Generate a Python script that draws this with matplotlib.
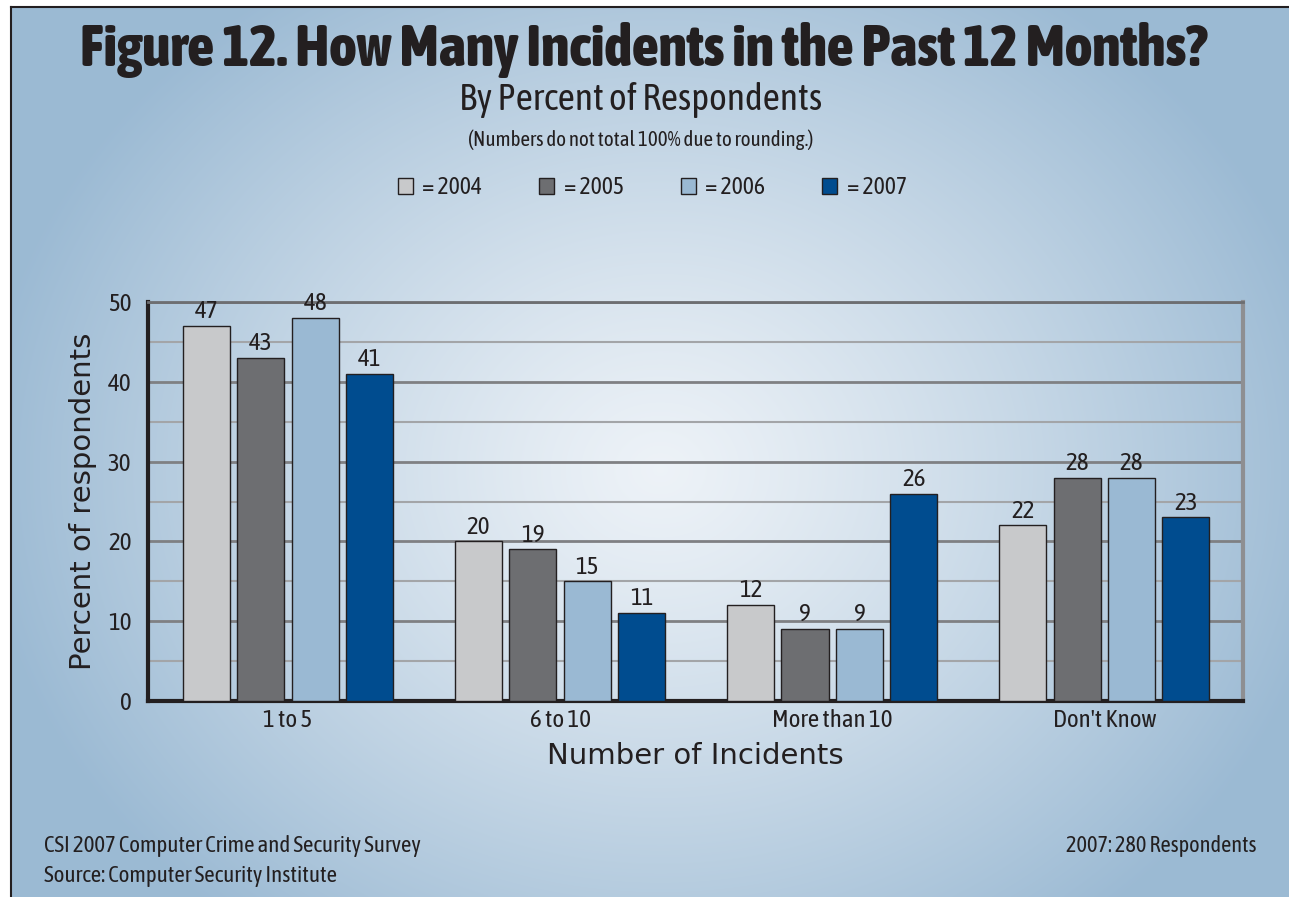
import matplotlib
matplotlib.use("Agg")
import matplotlib.pyplot as plt
import matplotlib.font_manager as fm
from matplotlib.patches import Patch
import numpy as np

# survey results, percent of respondents
categories = ["1 to 5", "6 to 10", "More than 10", "Don't Know"]
years = ["2004", "2005", "2006", "2007"]
pct_2004 = [47, 20, 12, 22]
pct_2005 = [43, 19, 9, 28]
pct_2006 = [48, 15, 9, 28]
pct_2007 = [41, 11, 26, 23]
series = [pct_2004, pct_2005, pct_2006, pct_2007]
bar_colors = ["#c8c9cb", "#6d6e71", "#9ab9d3", "#004c8f"]
ink = "#231f20"


def as_weight(w):
    if isinstance(w, int):
        return w
    return 700 if 'bold' in str(w) else 400


def narrow_faces():
    # every upright condensed / narrow face that is installed
    out = []
    for f in fm.fontManager.ttflist:
        is_narrow = ('Narrow' in f.name or 'Condensed' in f.name
                     or f.stretch in ('condensed', 'semi-condensed', 'extra-condensed'))
        if is_narrow and f.style == 'normal':
            out.append(f)
    return out


faces = narrow_faces()
if faces:
    heavy = sorted(faces, key=lambda f: (abs(as_weight(f.weight) - 800), f.fname))[0]
    same = [f for f in faces if f.name == heavy.name] or faces
    plain = sorted(same, key=lambda f: (abs(as_weight(f.weight) - 400), f.fname))[0]
    cond_bold = fm.FontProperties(fname=heavy.fname)
    cond = fm.FontProperties(fname=plain.fname)
else:
    cond_bold = fm.FontProperties(family='DejaVu Sans', weight='bold')
    cond = fm.FontProperties(family='DejaVu Sans')

W, H = 1289, 897
fig = plt.figure(figsize=(W / 100, H / 100), dpi=100)

# bluish radial backdrop inside the frame
x0, y0 = 11, 7
bg = fig.add_axes([x0 / W, 0, 1 - x0 / W, 1 - y0 / H], zorder=-5)
gx, gy = np.meshgrid(np.arange(x0, W), np.arange(y0, H))
r = np.sqrt(((gx - 660) / 680.0) ** 2 + ((gy - 470) / 580.0) ** 2)
t = np.clip(r, 0, 1) ** 1.2
c_in = np.array([0.93, 0.95, 0.97])
c_out = np.array([0.61, 0.73, 0.83])
img = c_in[None, None, :] * (1 - t[..., None]) + c_out[None, None, :] * t[..., None]
bg.imshow(img, aspect='auto', interpolation='bilinear')
bg.axis('off')

# frame lines on top and left
fig.add_artist(plt.Line2D([x0 / W, 1], [1 - y0 / H, 1 - y0 / H], color=ink, lw=1.5))
fig.add_artist(plt.Line2D([x0 / W, x0 / W], [0, 1 - y0 / H], color=ink, lw=1.5))

ax = fig.add_axes([148 / W, 1 - 701 / H, 1095 / W, 399 / H])
ax.patch.set_alpha(0)

x = np.arange(len(categories))
step, width = 0.2, 0.173
for j, (vals, col) in enumerate(zip(series, bar_colors)):
    pos = x + (j - 1.5) * step
    ax.bar(pos, vals, width=width, color=col, edgecolor=ink, linewidth=1, zorder=3)
    for px, v in zip(pos, vals):
        ax.annotate(str(v), (px, v), xytext=(0, 2), textcoords='offset points',
                    ha='center', va='bottom', fontproperties=cond, fontsize=18, color=ink)

ax.set_xlim(-0.515, 3.51)
ax.set_ylim(0, 50)
ax.set_yticks(range(0, 51, 10))
ax.set_yticks(range(5, 50, 10), minor=True)
ax.grid(axis='y', which='major', color='#7f8083', lw=2, zorder=1)
ax.grid(axis='y', which='minor', color='#a3a5a8', lw=1.5, zorder=1)
ax.set_xticks(x)
ax.set_xticklabels(categories)
ax.tick_params(axis='both', which='both', length=0, colors=ink)
ax.tick_params(axis='x', pad=6)
ax.tick_params(axis='y', pad=12)
for lab in ax.get_xticklabels() + ax.get_yticklabels():
    lab.set_fontproperties(cond)
    lab.set_fontsize(18)

for s in ['left', 'bottom']:
    ax.spines[s].set_color(ink)
    ax.spines[s].set_linewidth(3)
ax.spines['right'].set_color('#8e8f92')
ax.spines['right'].set_linewidth(3)
ax.spines['top'].set_color('#6d6e71')
ax.spines['top'].set_linewidth(2)

ax.set_xlabel("Number of Incidents", family='DejaVu Sans',
              fontsize=21, color=ink, labelpad=7)
ax.set_ylabel("Percent of respondents", family='DejaVu Sans',
              fontsize=21, color=ink, labelpad=8)

fig.text(0.499, 1 - 50 / H, "Figure 12. How Many Incidents in the Past 12 Months?",
         ha='center', va='center', fontproperties=cond_bold, fontsize=42, color=ink)
fig.text(0.497, 1 - 100 / H, "By Percent of Respondents",
         ha='center', va='center', fontproperties=cond, fontsize=27, color=ink)
fig.text(0.497, 1 - 140 / H, "(Numbers do not total 100% due to rounding.)",
         ha='center', va='center', fontproperties=cond, fontsize=15, color=ink)

handles = [Patch(facecolor=c, edgecolor=ink, linewidth=1) for c in bar_colors]
leg_font = cond.copy()
leg_font.set_size(17)
fig.legend(handles, ["= " + y for y in years], loc='center',
           bbox_to_anchor=(0.506, 1 - 188 / H), ncol=4, frameon=False,
           prop=leg_font, handlelength=0.65, handleheight=0.65,
           handletextpad=0.4, columnspacing=2.4, labelcolor=ink)

fig.text(44 / W, 1 - 846 / H, "CSI 2007 Computer Crime and Security Survey",
         ha='left', va='center', fontproperties=cond, fontsize=16.5, color=ink)
fig.text(44 / W, 1 - 876 / H, "Source: Computer Security Institute",
         ha='left', va='center', fontproperties=cond, fontsize=16.5, color=ink)
fig.text(1257 / W, 1 - 846 / H, "2007: 280 Respondents",
         ha='right', va='center', fontproperties=cond, fontsize=16, color=ink)

fig.savefig("out.png", dpi=100)
